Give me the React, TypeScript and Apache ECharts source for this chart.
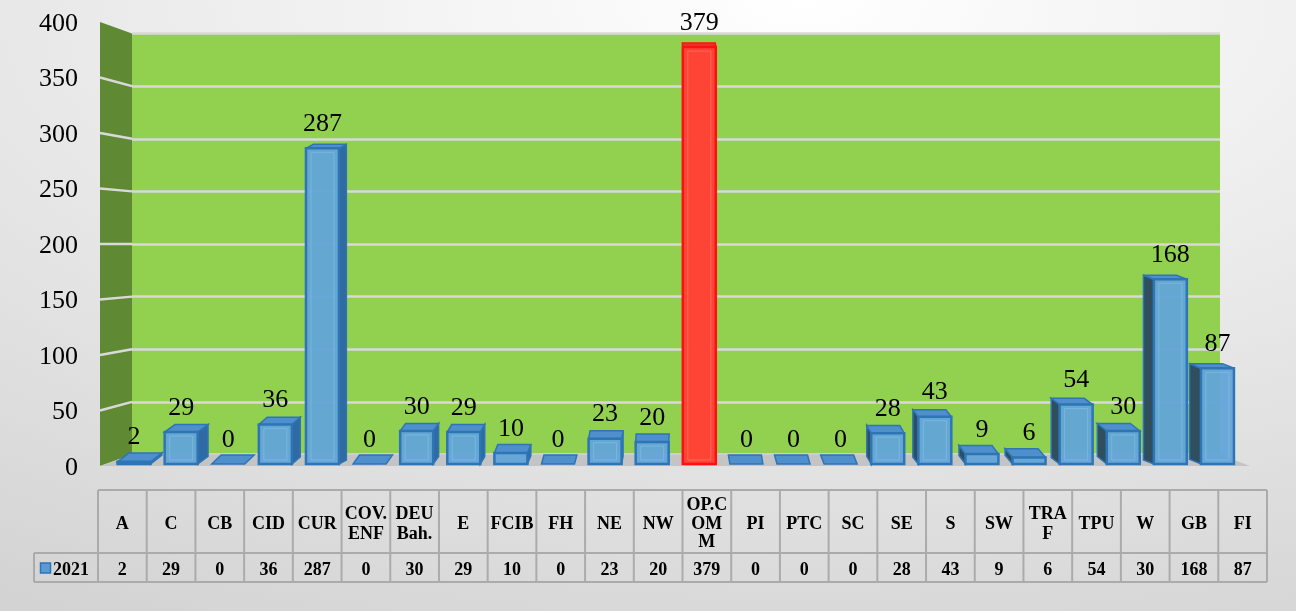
import { useEffect, useRef } from "react";
import * as echarts from "echarts";

const categories = ["A", "C", "CB", "CID", "CUR", "COV.ENF", "DEU Bah.", "E", "FCIB", "FH", "NE", "NW", "OP.COMM", "PI", "PTC", "SC", "SE", "S", "SW", "TRAF", "TPU", "W", "GB", "FI"];
const headerLabels = ["A", "C", "CB", "CID", "CUR", "COV.\nENF", "DEU\nBah.", "E", "FCIB", "FH", "NE", "NW", "OP.C\nOM\nM", "PI", "PTC", "SC", "SE", "S", "SW", "TRA\nF", "TPU", "W", "GB", "FI"];
const values2021 = [2, 29, 0, 36, 287, 0, 30, 29, 10, 0, 23, 20, 379, 0, 0, 0, 28, 43, 9, 6, 54, 30, 168, 87];
const seriesName = "2021";
const yMin = 0;
const yMax = 400;
const yInterval = 50;

const W = 1296;
const H = 611;
const FONT = '"Liberation Serif", "Times New Roman", serif';

// layout
const BACK = { l: 132, r: 1220, t: 33.5, b: 454.5 };
const FRONT = { l: 100, r: 1250, t: 22, b: 466 };
const BARS = { l: 110.5, r: 1241, t: 24, b: 464 };
const TABLE = { x0: 98, x1: 1267, rowX: 34, y0: 490, y1: 553, y2: 582 };
const VP_X = 675;

export default function App() {
  const ref = useRef<HTMLDivElement>(null);
  useEffect(() => {
    if (!ref.current) return;
    const chart = echarts.init(ref.current, undefined, { renderer: "svg" });
    const maxVal = Math.max(...values2021);
    const ticks: number[] = [];
    for (let v = yMin; v <= yMax; v += yInterval) ticks.push(v);
    const yFront = (v: number) => FRONT.b - ((v - yMin) / (yMax - yMin)) * (FRONT.b - FRONT.t);
    const yBack = (v: number) => BACK.b - ((v - yMin) / (yMax - yMin)) * (BACK.b - BACK.t);

    const graphics: any[] = [];
    graphics.push({
      type: "rect", z: -10, silent: true,
      shape: { x: 0, y: 0, width: W, height: H },
      style: {
        fill: new echarts.graphic.RadialGradient(0.62, 0, 1.7, [
          { offset: 0, color: "#FFFFFF" },
          { offset: 0.45, color: "#E2E2E2" },
          { offset: 1, color: "#BEBEBE" },
        ]),
      },
    });
    // side wall
    graphics.push({
      type: "polygon", z: 1, silent: true,
      shape: { points: [[FRONT.l, FRONT.t], [BACK.l, BACK.t], [BACK.l, BACK.b], [FRONT.l, FRONT.b]] },
      style: { fill: "#5F8A33" },
    });
    ticks.forEach((v) => {
      if (v === yMin || v === yMax) return;
      graphics.push({
        type: "line", z: 1, silent: true,
        shape: { x1: FRONT.l, y1: yFront(v), x2: BACK.l, y2: yBack(v) },
        style: { stroke: "#D9D9D9", lineWidth: 2.5 },
      });
    });
    // floor
    graphics.push({
      type: "polygon", z: 1, silent: true,
      shape: { points: [[FRONT.l, FRONT.b], [BACK.l, BACK.b], [BACK.r, BACK.b], [FRONT.r, FRONT.b]] },
      style: { fill: "#C4C4C4" },
    });
    // data table
    const colW = (TABLE.x1 - TABLE.x0) / categories.length;
    const lineStyle = { stroke: "#ABABAB", lineWidth: 2 };
    graphics.push({ type: "line", z: 1, silent: true, shape: { x1: TABLE.x0, y1: TABLE.y0, x2: TABLE.x1, y2: TABLE.y0 }, style: lineStyle });
    graphics.push({ type: "line", z: 1, silent: true, shape: { x1: TABLE.rowX, y1: TABLE.y1, x2: TABLE.x1, y2: TABLE.y1 }, style: lineStyle });
    graphics.push({ type: "line", z: 1, silent: true, shape: { x1: TABLE.rowX, y1: TABLE.y2, x2: TABLE.x1, y2: TABLE.y2 }, style: lineStyle });
    graphics.push({ type: "line", z: 1, silent: true, shape: { x1: TABLE.rowX, y1: TABLE.y1, x2: TABLE.rowX, y2: TABLE.y2 }, style: lineStyle });
    for (let i = 0; i <= categories.length; i++) {
      const x = TABLE.x0 + i * colW;
      graphics.push({ type: "line", z: 1, silent: true, shape: { x1: x, y1: TABLE.y0, x2: x, y2: TABLE.y2 }, style: lineStyle });
    }
    categories.forEach((c, i) => {
      const cx = TABLE.x0 + (i + 0.5) * colW;
      const lines = headerLabels[i].split("\n").length;
      graphics.push({
        type: "text", z: 2, silent: true,
        x: cx, y: (TABLE.y0 + TABLE.y1) / 2 + 1,
        style: {
          text: headerLabels[i], align: "center", verticalAlign: "middle",
          fontFamily: FONT, fontWeight: "bold", fontSize: 18,
          lineHeight: lines > 2 ? 18.5 : 20, fill: "#000",
        },
      });
      graphics.push({
        type: "text", z: 2, silent: true,
        x: cx, y: (TABLE.y1 + TABLE.y2) / 2 + 1,
        style: {
          text: String(values2021[i]), align: "center", verticalAlign: "middle",
          fontFamily: FONT, fontWeight: "bold", fontSize: 18, fill: "#000",
        },
      });
    });
    graphics.push({
      type: "rect", z: 2, silent: true,
      shape: { x: 40.5, y: 563, width: 10, height: 10 },
      style: { fill: "#5B9BD5", stroke: "#2E75B6", lineWidth: 1.5 },
    });
    graphics.push({
      type: "text", z: 2, silent: true,
      x: 53, y: (TABLE.y1 + TABLE.y2) / 2 + 1,
      style: {
        text: seriesName, align: "left", verticalAlign: "middle",
        fontFamily: FONT, fontWeight: "bold", fontSize: 18, fill: "#000",
      },
    });

    const renderItem = (params: any, api: any) => {
      const idx = api.value(0);
      const v = api.value(1);
      const base = api.coord([idx, 0]);
      const top = api.coord([idx, v]);
      const w = 33;
      const cx = base[0];
      const x0 = cx - w / 2;
      const x1 = cx + w / 2;
      const yb = base[1];
      const yt = top[1];
      const dx = (VP_X - cx) * 0.021;
      const dy = -(9 - Math.min(v, 100) * 0.05);
      const hi = v === maxVal;
      const frontFill = hi ? "#FF4436" : "rgba(98,164,216,0.95)";
      const edge = hi ? "#FF1010" : "#2E75B6";
      const sideFill = hi ? "#D92A20" : dx > 0 ? "#2F6AA3" : "#2F4E5E";
      const topFill = hi ? "#E8352B" : "#4E8FCC";
      const children: any[] = [];
      const sx = dx > 0 ? x1 : x0;
      if (Math.abs(dx) > 1 && yb - yt > 1) {
        children.push({
          type: "polygon",
          shape: { points: [[sx, yt], [sx + dx, yt + dy], [sx + dx, yb + dy], [sx, yb]] },
          style: { fill: sideFill, stroke: edge, lineWidth: 1.5 },
        });
      }
      children.push({
        type: "polygon",
        shape: { points: [[x0, yt], [x1, yt], [x1 + dx, yt + dy], [x0 + dx, yt + dy]] },
        style: { fill: topFill, stroke: edge, lineWidth: 1.5 },
      });
      if (yb - yt > 1) {
        children.push({
          type: "rect",
          shape: { x: x0, y: yt, width: w, height: yb - yt },
          style: { fill: frontFill, stroke: edge, lineWidth: 2.5 },
        });
        if (yb - yt > 12) {
          children.push({
            type: "rect",
            shape: { x: x0 + 5, y: yt + 4, width: w - 10, height: yb - yt - 8 },
            style: { fill: "none", stroke: hi ? "rgba(255,120,110,0.7)" : "rgba(140,195,235,0.55)", lineWidth: 1 },
          });
        }
      }
      children.push({
        type: "text",
        x: cx, y: yt - 26,
        style: {
          text: String(v), align: "center", verticalAlign: "middle",
          fontFamily: FONT, fontSize: 26, fill: "#000",
        },
      });
      return { type: "group", children };
    };

    chart.setOption({
      animation: false,
      graphic: { elements: graphics },
      grid: [
        {
          left: BACK.l, right: W - BACK.r, top: BACK.t, bottom: H - BACK.b,
          show: true, backgroundColor: "#92D050", borderWidth: 0, containLabel: false,
        },
        {
          left: FRONT.l, right: W - FRONT.r, top: FRONT.t, bottom: H - FRONT.b,
          show: false, containLabel: false,
        },
        {
          left: BARS.l, right: W - BARS.r, top: BARS.t, bottom: H - BARS.b,
          show: false, containLabel: false,
        },
      ],
      xAxis: [
        { type: "category", gridIndex: 0, data: categories, show: false },
        { type: "category", gridIndex: 1, data: categories, show: false },
        { type: "category", gridIndex: 2, data: categories, show: false, boundaryGap: true },
      ],
      yAxis: [
        {
          type: "value", gridIndex: 0, min: yMin, max: yMax, interval: yInterval,
          axisLabel: { show: false }, axisLine: { show: false }, axisTick: { show: false },
          splitLine: { show: true, lineStyle: { color: "#D9D9D9", width: 2.5 } },
        },
        {
          type: "value", gridIndex: 1, min: yMin, max: yMax, interval: yInterval,
          axisLine: { show: false }, axisTick: { show: false }, splitLine: { show: false },
          axisLabel: { show: true, margin: 22, fontSize: 26, fontFamily: FONT, color: "#000" },
        },
        {
          type: "value", gridIndex: 2, min: yMin, max: yMax, interval: yInterval, show: false,
          splitLine: { show: false },
        },
      ],
      series: [
        {
          type: "custom",
          name: seriesName,
          xAxisIndex: 2,
          yAxisIndex: 2,
          z: 3,
          clip: false,
          renderItem,
          data: values2021.map((v, i) => [i, v]),
        },
      ],
    });
    return () => chart.dispose();
  }, []);
  return <div ref={ref} style={{ position: "fixed", left: 0, top: 0, width: W, height: H }} />;
}
